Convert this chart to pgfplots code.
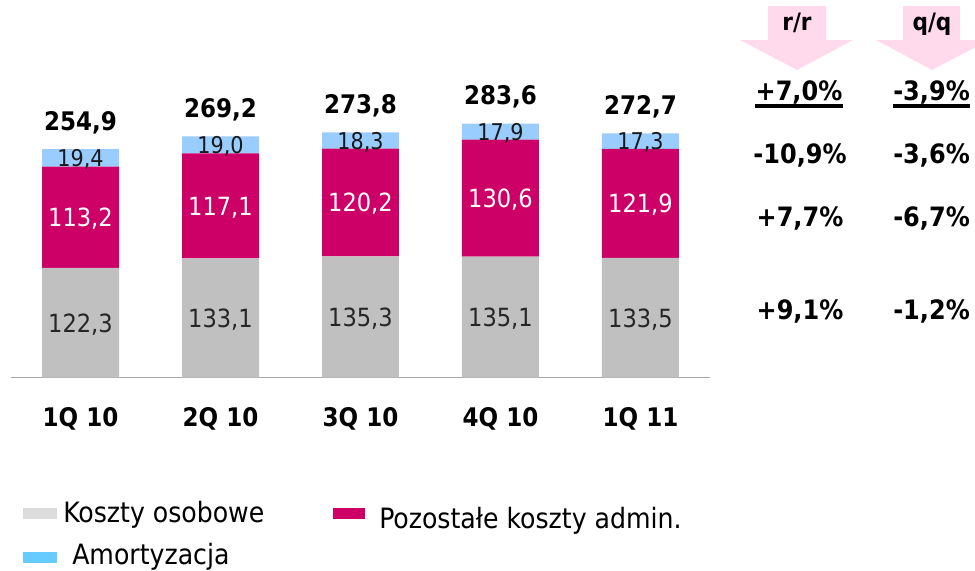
\documentclass[border=0pt]{standalone}
\usepackage{fontspec}
\setmainfont{DejaVu Sans Condensed}[BoldFont={DejaVu Sans Condensed Bold}]
\usepackage{pgfplots}
\pgfplotsset{compat=1.18}
\definecolor{cgrey}{HTML}{C0C0C0}
\definecolor{cmag}{HTML}{CC0066}
\definecolor{cblue}{HTML}{99CCFF}
\definecolor{lgrey}{HTML}{DCDCDC}
\definecolor{lblue}{HTML}{66CCFF}
\definecolor{cpink}{HTML}{FFD9EC}
\definecolor{axgrey}{HTML}{A6A6A6}
\newcommand\pxfont[1]{\fontsize{#1}{#1}\selectfont}
\tikzset{
  pct/.style={inner sep=0pt, font=\bfseries\pxfont{20}},
  leg/.style={anchor=base west, inner sep=0pt, font=\pxfont{21}},
  segA/.style={inner sep=0pt, font=\pxfont{18.8}, text depth=0pt, text=black!85},
  segM/.style={inner sep=0pt, font=\pxfont{18.8}, text depth=0pt, text=white},
  segB/.style={inner sep=0pt, font=\pxfont{17.3}, text depth=0pt, text=black!90},
  tot/.style={inner sep=0pt, font=\bfseries\pxfont{19.2}, anchor=base, yshift=14pt},
}
\begin{document}
\begin{tikzpicture}[x=0.75pt,y=-0.75pt]
% pink arrows
\fill[cpink] (768,6) -- (826,6) -- (826,40) -- (853,40) -- (797,70) -- (740,40) -- (768,40) -- cycle;
\fill[cpink] (903,6) -- (960,6) -- (960,40) -- (989,40) -- (932,70) -- (876,40) -- (903,40) -- cycle;
\node[anchor=base, inner sep=0pt, font=\bfseries\pxfont{18}] at (797,31) {r/r};
\node[anchor=base, inner sep=0pt, font=\bfseries\pxfont{18}] at (932,31) {q/q};
% percentages
\node[pct, anchor=base] (a1) at (799,100) {+7,0\%};
\node[pct, anchor=base west] (b1) at (893,100) {-3,9\%};
\node[pct, anchor=base] at (800,163) {-10,9\%};
\node[pct, anchor=base west] at (893,163) {-3,6\%};
\node[pct, anchor=base] at (800,226) {+7,7\%};
\node[pct, anchor=base west] at (893,226) {-6,7\%};
\node[pct, anchor=base] at (800,319) {+9,1\%};
\node[pct, anchor=base west] at (893,319) {-1,2\%};
\draw[line width=3pt] ([yshift=-4.5pt]a1.base west) -- ([yshift=-4.5pt]a1.base east);
\draw[line width=3pt] ([yshift=-4.5pt]b1.base west) -- ([yshift=-4.5pt]b1.base east);
% legend
\fill[lgrey] (23,508) rectangle (57,519);
\node[leg] at (63,522) {Koszty osobowe};
\fill[cmag] (333,508) rectangle (365,519);
\node[leg] at (379,528) {Pozostałe koszty admin.};
\fill[lblue] (23,552) rectangle (57,563);
\node[leg] at (72,564) {Amortyzacja};
% chart
\begin{axis}[
  at={(7.875pt,-283.125pt)}, anchor=south west,
  scale only axis, width=525pt, height=201.5pt,
  xmin=-0.5, xmax=4.5, ymin=0, ymax=300,
  ybar stacked, bar width=0.55,
  axis y line=none, axis x line=bottom,
  x axis line style={-, draw=axgrey, line width=1.1pt},
  xtick=data, xticklabels={1Q 10,2Q 10,3Q 10,4Q 10,1Q 11},
  xtick style={draw=none}, ymajorticks=false,
  x tick label style={font=\bfseries\pxfont{19.2}, anchor=base, yshift=-34.9pt, inner sep=0pt},
  clip=false,
]
\addplot[fill=cgrey, draw=none] coordinates {(0,122.3) (1,133.1) (2,135.3) (3,135.1) (4,133.5)};
\addplot[fill=cmag, draw=none] coordinates {(0,113.2) (1,117.1) (2,120.2) (3,130.6) (4,121.9)};
\addplot[fill=cblue, draw=none] coordinates {(0,19.4) (1,19.0) (2,18.3) (3,17.9) (4,17.3)};
\coordinate (g0) at (axis cs:0,61.15);
\coordinate (g1) at (axis cs:1,66.55);
\coordinate (g2) at (axis cs:2,67.65);
\coordinate (g3) at (axis cs:3,67.55);
\coordinate (g4) at (axis cs:4,66.75);
\coordinate (m0) at (axis cs:0,178.9);
\coordinate (m1) at (axis cs:1,191.65);
\coordinate (m2) at (axis cs:2,195.4);
\coordinate (m3) at (axis cs:3,200.4);
\coordinate (m4) at (axis cs:4,194.45);
\coordinate (b0) at (axis cs:0,245.2);
\coordinate (b1) at (axis cs:1,259.7);
\coordinate (b2) at (axis cs:2,264.65);
\coordinate (b3) at (axis cs:3,274.65);
\coordinate (b4) at (axis cs:4,264.05);
\coordinate (t0) at (axis cs:0,254.9);
\coordinate (t1) at (axis cs:1,269.2);
\coordinate (t2) at (axis cs:2,273.8);
\coordinate (t3) at (axis cs:3,283.6);
\coordinate (t4) at (axis cs:4,272.7);
\end{axis}
\node[segA] at (g0) {122,3};
\node[segA] at (g1) {133,1};
\node[segA] at (g2) {135,3};
\node[segA] at (g3) {135,1};
\node[segA] at (g4) {133,5};
\node[segM] at (m0) {113,2};
\node[segM] at (m1) {117,1};
\node[segM] at (m2) {120,2};
\node[segM] at (m3) {130,6};
\node[segM] at (m4) {121,9};
\node[segB] at (b0) {19,4};
\node[segB] at (b1) {19,0};
\node[segB] at (b2) {18,3};
\node[segB] at (b3) {17,9};
\node[segB] at (b4) {17,3};
\node[tot] at (t0) {254,9};
\node[tot] at (t1) {269,2};
\node[tot] at (t2) {273,8};
\node[tot] at (t3) {283,6};
\node[tot] at (t4) {272,7};
\pgfresetboundingbox
\path[use as bounding box] (0,0) rectangle (975,571);
\end{tikzpicture}
\end{document}
